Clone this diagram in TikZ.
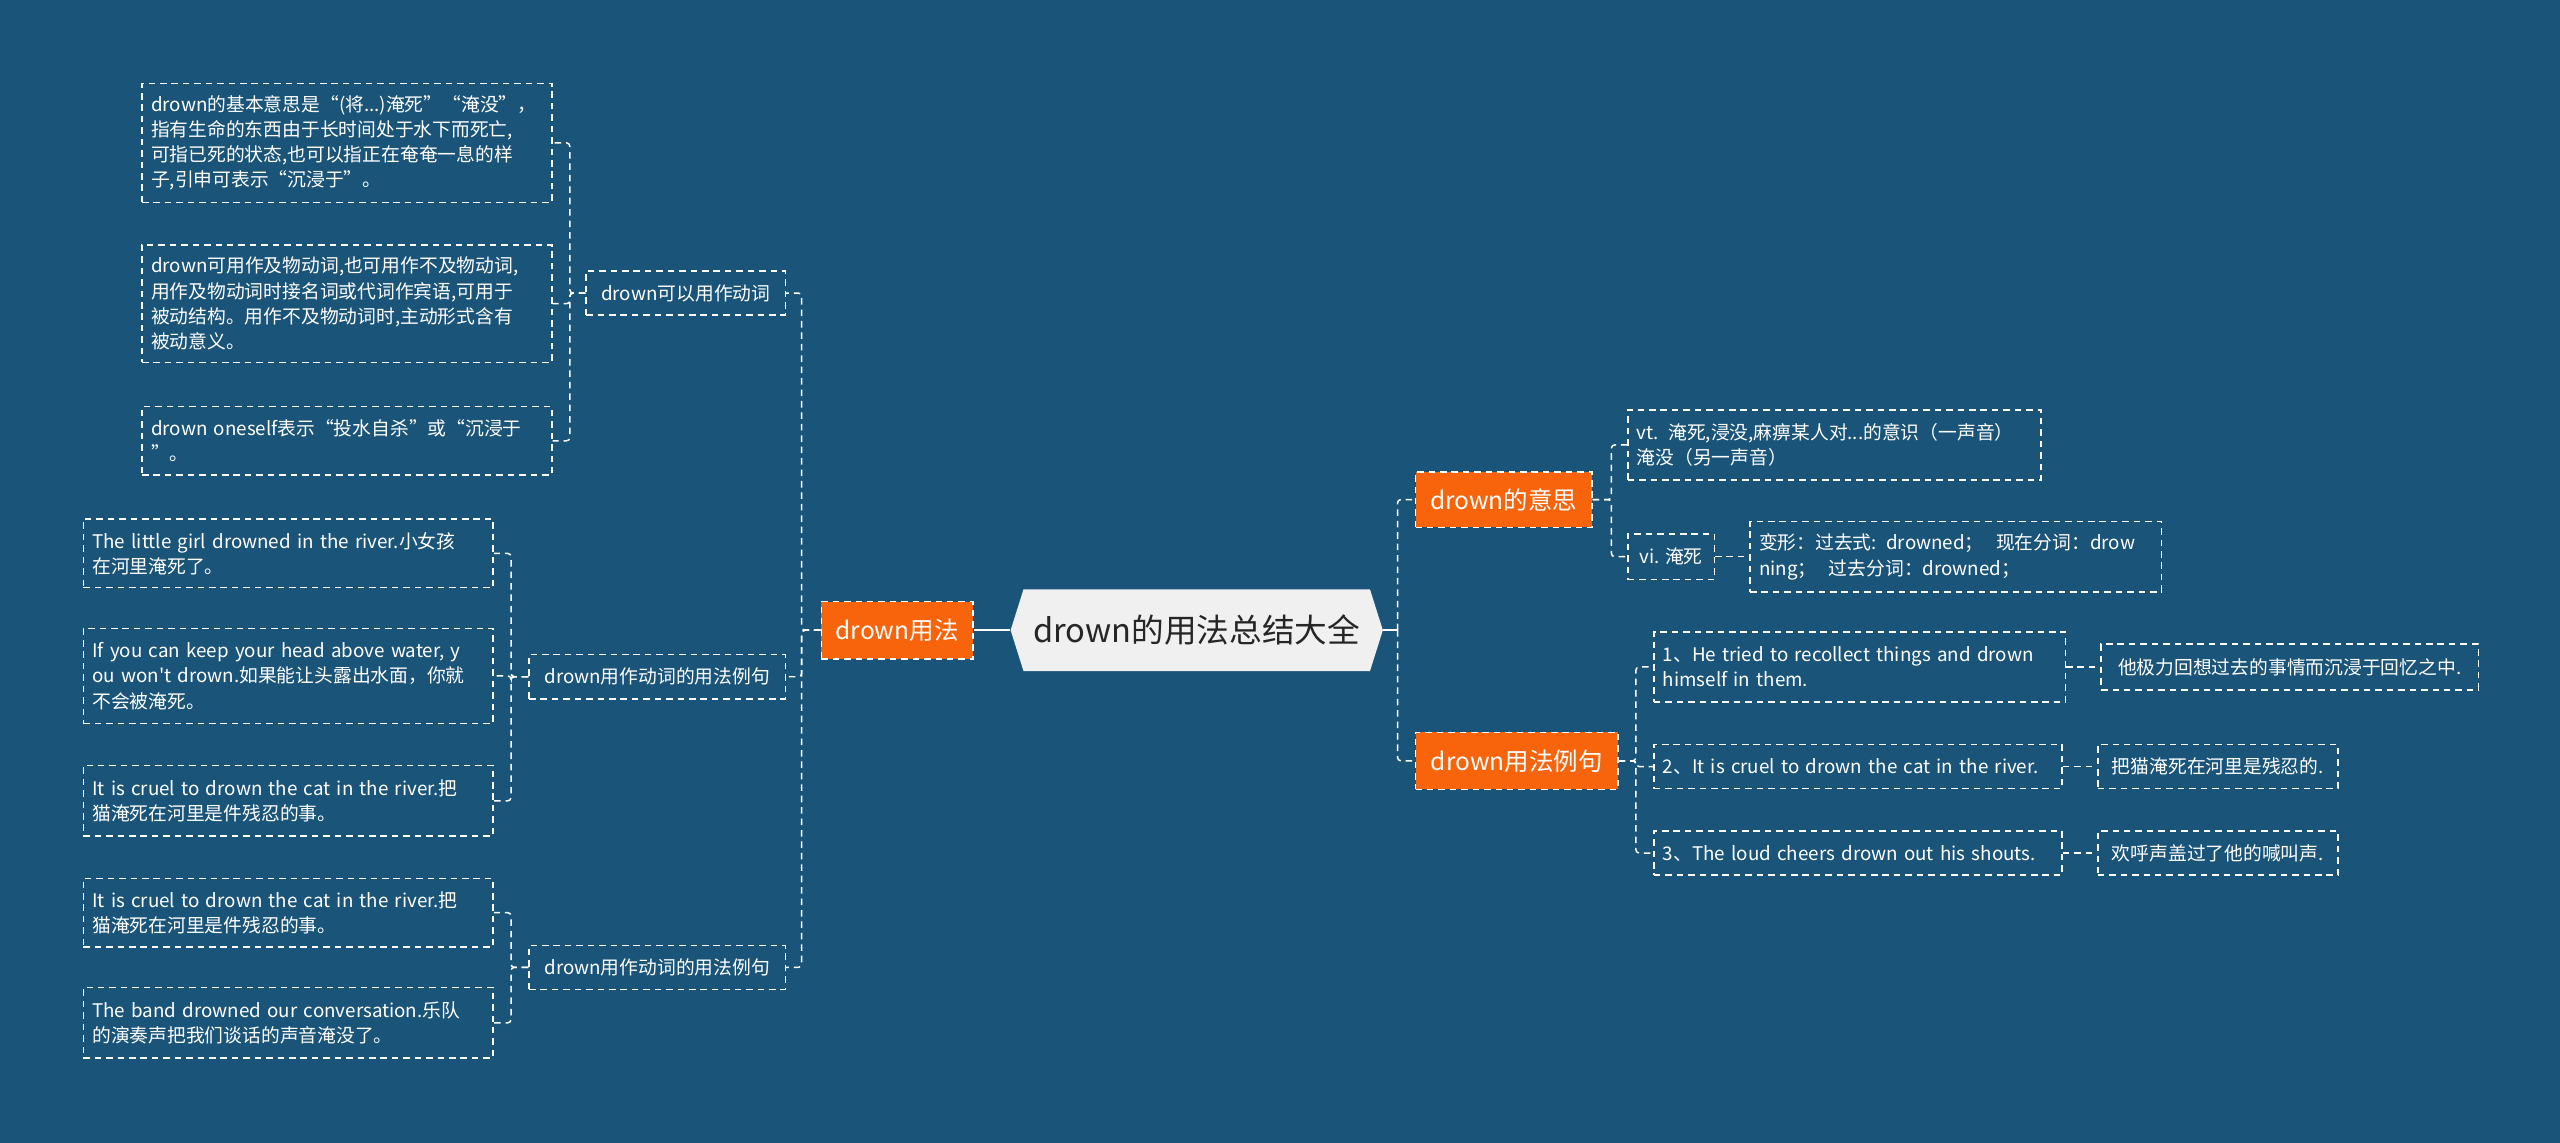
\documentclass[tikz,border=0pt]{standalone}
\usepackage{fontspec}
\setmainfont{Noto Sans CJK SC}[Ligatures=TeXOff]
\usetikzlibrary{shapes.symbols, positioning}
\definecolor{bgblue}{RGB}{26,84,120}
\definecolor{topicorange}{RGB}{247,100,12}
\definecolor{rootgrey}{RGB}{240,240,240}
\begin{document}
\begin{tikzpicture}[
      x=1pt, y=-1pt,
      node distance=21pt,
      leaf/.style={rectangle, draw=white, dash pattern=on 4pt off 3pt, line width=0.9pt,
                   text=white, align=left, text width=#1, inner xsep=5.5pt, inner ysep=4pt,
                   font=\fontsize{11.5}{15.5}\selectfont},
      tag/.style={rectangle, draw=white, dash pattern=on 4pt off 3pt, line width=0.9pt,
                  text=white, minimum height=27pt, inner xsep=5pt,
                  font=\fontsize{11.5}{15.5}\selectfont},
      topic/.style={rectangle, draw=white, dash pattern=on 4pt off 3pt, line width=0.9pt,
                    fill=topicorange, text=white, minimum height=35pt,
                    font=\fontsize{15}{18}\selectfont},
      root/.style={signal, signal to=west and east, signal pointer angle=145,
                   fill=rootgrey, text=black!85, minimum width=228pt, minimum height=50pt,
                   font=\fontsize{20}{23}\selectfont},
      link/.style={draw=white, dash pattern=on 4pt off 3pt, line width=0.9pt, rounded corners=2pt},
      stem/.style={draw=white, line width=1.4pt}
    ]
    \fill[bgblue] (0,0) rectangle (1568,700);
    \useasboundingbox (0,0) rectangle (1568,700);

    \node[root] (root) at (733,386) {drown的用法总结大全};
    \node[topic, minimum width=93pt] (usage) at (549.5,386) {drown用法};
    \node[topic, minimum width=108pt, minimum height=34pt] (meaning) at (921,306) {drown的意思};
    \node[topic, minimum width=124pt] (examples) at (929,466) {drown用法例句};

    \node[tag, minimum width=122pt] (verb) at (420,179.5) {drown可以用作动词};
    \node[tag, minimum width=157pt] (exverb) at (402.5,414.5) {drown用作动词的用法例句};
    \node[tag, minimum width=157pt] (exverbb) at (402.5,592.5) {drown用作动词的用法例句};

    \node[leaf=240pt, minimum height=73pt] (sense) at (212.5,87.5)
      {drown的基本意思是“(将...)淹死”“淹没”，\\指有生命的东西由于长时间处于水下而死亡,\\可指已死的状态,也可以指正在奄奄一息的样\\子,引申可表示“沉浸于”。};
    \node[leaf=240pt, minimum height=72pt] (trans) at (212.5,186)
      {drown可用作及物动词,也可用作不及物动词,\\用作及物动词时接名词或代词作宾语,可用于\\被动结构。用作不及物动词时,主动形式含有\\被动意义。};
    \node[leaf=240pt, minimum height=42pt] (self) at (212.5,270)
      {drown oneself表示“投水自杀”或“沉浸于\\”。};

    \node[leaf=240pt, minimum height=42pt] (girl) at (176.5,339)
      {The little girl drowned in the river.小女孩\\在河里淹死了。};
    \node[leaf=240pt, minimum height=58pt] (head) at (176.5,414)
      {If you can keep your head above water, y\\ou won't drown.如果能让头露出水面，你就\\不会被淹死。};
    \node[leaf=240pt, minimum height=43pt] (cat) at (176.5,490.5)
      {It is cruel to drown the cat in the river.把\\猫淹死在河里是件残忍的事。};
    \node[leaf=240pt, minimum height=42pt] (catb) at (176.5,559)
      {It is cruel to drown the cat in the river.把\\猫淹死在河里是件残忍的事。};
    \node[leaf=240pt, minimum height=43pt] (band) at (176.5,626.5)
      {The band drowned our conversation.乐队\\的演奏声把我们谈话的声音淹没了。};

    \node[leaf=242pt, minimum height=43pt] (vt) at (1123.5,272.5)
      {vt. 淹死,浸没,麻痹某人对...的意识（一声音）\\淹没（另一声音）};
    \node[tag, minimum width=53pt, minimum height=28pt] (vi) at (1023.5,341) {vi. 淹死};
    \node[leaf=241pt, minimum height=43pt, right=of vi] (form)
      {变形：过去式: drowned；\ \ 现在分词：drow\\ning；\ \ 过去分词：drowned；};

    \node[leaf=241pt, minimum height=43pt] (sone) at (1139,408.5)
      {1、He tried to recollect things and drown\\himself in them.};
    \node[tag, minimum width=231pt, minimum height=28pt, right=of sone] (tone) {他极力回想过去的事情而沉浸于回忆之中.};
    \node[leaf=239pt, minimum height=27pt] (stwo) at (1138,469.5)
      {2、It is cruel to drown the cat in the river.};
    \node[tag, minimum width=147pt, right=of stwo] (ttwo) {把猫淹死在河里是残忍的.};
    \node[leaf=239pt, minimum height=27pt] (sthree) at (1138,522.5)
      {3、The loud cheers drown out his shouts.};
    \node[tag, minimum width=147pt, right=of sthree] (tthree) {欢呼声盖过了他的喊叫声.};

    \coordinate (jverb) at (349,179.5);
    \coordinate (jex) at (313,414.5);
    \coordinate (jexb) at (313,592.5);
    \coordinate (jusage) at (491,386);
    \coordinate (jroot) at (856,386);
    \coordinate (jmeaning) at (987,306);
    \coordinate (jexamples) at (1002,466);

    \draw[stem] (usage.east) -- (root.west);
    \draw[stem] (root.east) -- (jroot);
    \draw[link] (jroot) |- (meaning.west);
    \draw[link] (jroot) |- (examples.west);

    \draw[link] (usage.west) -- (jusage) |- (verb.east);
    \draw[link] (usage.west) -- (jusage) |- (exverb.east);
    \draw[link] (usage.west) -- (jusage) |- (exverbb.east);

    \draw[link] (verb.west) -- (jverb) |- (sense.east);
    \draw[link] (verb.west) -- (jverb) |- (trans.east);
    \draw[link] (verb.west) -- (jverb) |- (self.east);

    \draw[link] (exverb.west) -- (jex) |- (girl.east);
    \draw[link] (exverb.west) -- (jex) |- (head.east);
    \draw[link] (exverb.west) -- (jex) |- (cat.east);

    \draw[link] (exverbb.west) -- (jexb) |- (catb.east);
    \draw[link] (exverbb.west) -- (jexb) |- (band.east);

    \draw[link] (meaning.east) -- (jmeaning) |- (vt.west);
    \draw[link] (meaning.east) -- (jmeaning) |- (vi.west);
    \draw[link] (vi) -- (form);

    \draw[link] (examples.east) -- (jexamples) |- (sone.west);
    \draw[link] (examples.east) -- (jexamples) |- (stwo.west);
    \draw[link] (examples.east) -- (jexamples) |- (sthree.west);
    \draw[link] (sone) -- (tone);
    \draw[link] (stwo) -- (ttwo);
    \draw[link] (sthree) -- (tthree);
  \end{tikzpicture}
\end{document}
